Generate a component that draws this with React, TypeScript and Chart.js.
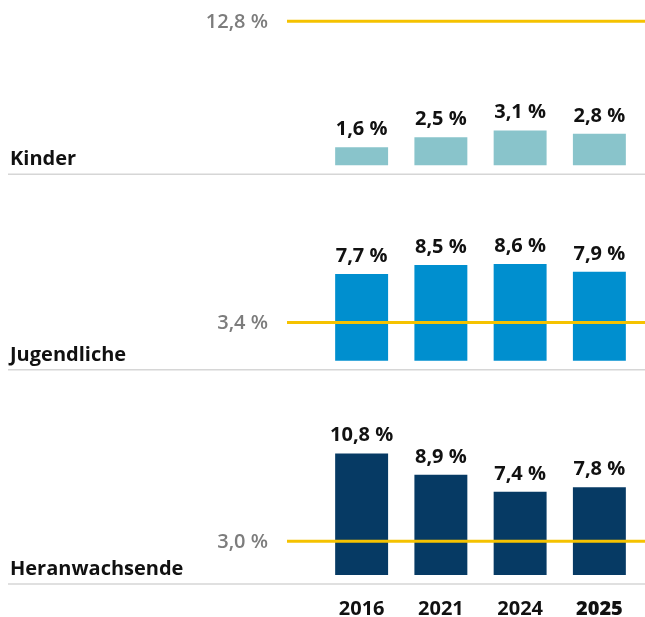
import React, { useEffect, useRef } from 'react';
import { Chart, registerables } from 'chart.js';

Chart.register(...registerables);

const years = ['2016', '2021', '2024', '2025'];
const groupNames = ['Kinder', 'Jugendliche', 'Heranwachsende'];
const kinder = [1.6, 2.5, 3.1, 2.8];
const jugendliche = [7.7, 8.5, 8.6, 7.9];
const heranwachsende = [10.8, 8.9, 7.4, 7.8];
const referenceValues = [12.8, 3.4, 3.0];

const FONT = '"Open Sans", "Noto Sans", sans-serif';
const barColors = ['#89c4cb', '#008fcf', '#063a64'];
const axisIds = ['yK', 'yJ', 'yH'];
const axisMin = -0.8;
const axisMax = [14.33, 16.55, 18.23];

const fmt = (v: number) => v.toFixed(1).replace('.', ',') + '\u00a0%';

const overlayPlugin = {
  id: 'overlay',
  afterDatasetsDraw(chart: any) {
    const ctx = chart.ctx;
    const W = chart.width;
    ctx.save();
    // value labels
    chart.data.datasets.forEach((ds: any, di: number) => {
      const meta = chart.getDatasetMeta(di);
      meta.data.forEach((el: any, i: number) => {
        ctx.font = `bold 20px ${FONT}`;
        ctx.fillStyle = '#111111';
        ctx.textAlign = 'center';
        ctx.textBaseline = 'alphabetic';
        ctx.fillText(fmt(ds.data[i]), el.x, el.y - 12);
      });
    });
    axisIds.forEach((id, gi) => {
      const scale = chart.scales[id];
      // separator
      ctx.strokeStyle = '#d6d6d6';
      ctx.lineWidth = 1.5;
      ctx.beginPath();
      ctx.moveTo(8, scale.bottom);
      ctx.lineTo(W, scale.bottom);
      ctx.stroke();
      // group label
      ctx.font = `bold 20px ${FONT}`;
      ctx.fillStyle = '#111111';
      ctx.textAlign = 'left';
      ctx.textBaseline = 'alphabetic';
      ctx.fillText(groupNames[gi], 10, scale.getPixelForValue(0));
      // reference line
      const ry = scale.getPixelForValue(referenceValues[gi]);
      ctx.strokeStyle = '#f5c200';
      ctx.lineWidth = 3;
      ctx.beginPath();
      ctx.moveTo(287, ry);
      ctx.lineTo(W, ry);
      ctx.stroke();
      ctx.font = `600 20px ${FONT}`;
      ctx.fillStyle = '#7c7c7c';
      ctx.textAlign = 'right';
      ctx.textBaseline = 'middle';
      ctx.fillText(fmt(referenceValues[gi]), 268, ry + 1);
    });
    ctx.restore();
  },
};

const hiddenY = (i: number) => ({
  type: 'linear' as const,
  position: 'left' as const,
  stack: 'panels',
  stackWeight: axisMax[i] - axisMin,
  min: axisMin,
  max: axisMax[i],
  ticks: { display: false },
  grid: { display: false, drawTicks: false },
  border: { display: false },
});

export default function App() {
  const ref = useRef<HTMLCanvasElement | null>(null);
  useEffect(() => {
    if (!ref.current) return;
    const series = [kinder, jugendliche, heranwachsende];
    const chart = new Chart(ref.current, {
      type: 'bar',
      data: {
        labels: years,
        datasets: series.map((d, i) => ({
          label: groupNames[i],
          data: d,
          yAxisID: axisIds[i],
          backgroundColor: barColors[i],
          grouped: false,
          barPercentage: 0.668,
          categoryPercentage: 1,
        })),
      },
      options: {
        animation: false,
        responsive: false,
        devicePixelRatio: 1,
        layout: { padding: { left: 322, right: 6, top: 4, bottom: -17 } },
        plugins: { legend: { display: false }, tooltip: { enabled: false } },
        scales: {
          x: {
            type: 'category',
            grid: { display: false, drawTicks: false },
            border: { display: false },
            ticks: {
              color: '#111111',
              padding: 13,
              font: (c: any) => ({ family: FONT, size: 20, weight: c.index === 3 ? '800' : 'bold' }),
            },
          },
          yH: hiddenY(2),
          yJ: hiddenY(1),
          yK: hiddenY(0),
        },
      },
      plugins: [overlayPlugin],
    } as any);
    return () => chart.destroy();
  }, []);
  return (
    <div style={{ position: 'absolute', left: 0, top: 0, width: 645, height: 617, background: '#fff' }}>
      <canvas ref={ref} width={645} height={617} style={{ display: 'block' }} />
    </div>
  );
}
